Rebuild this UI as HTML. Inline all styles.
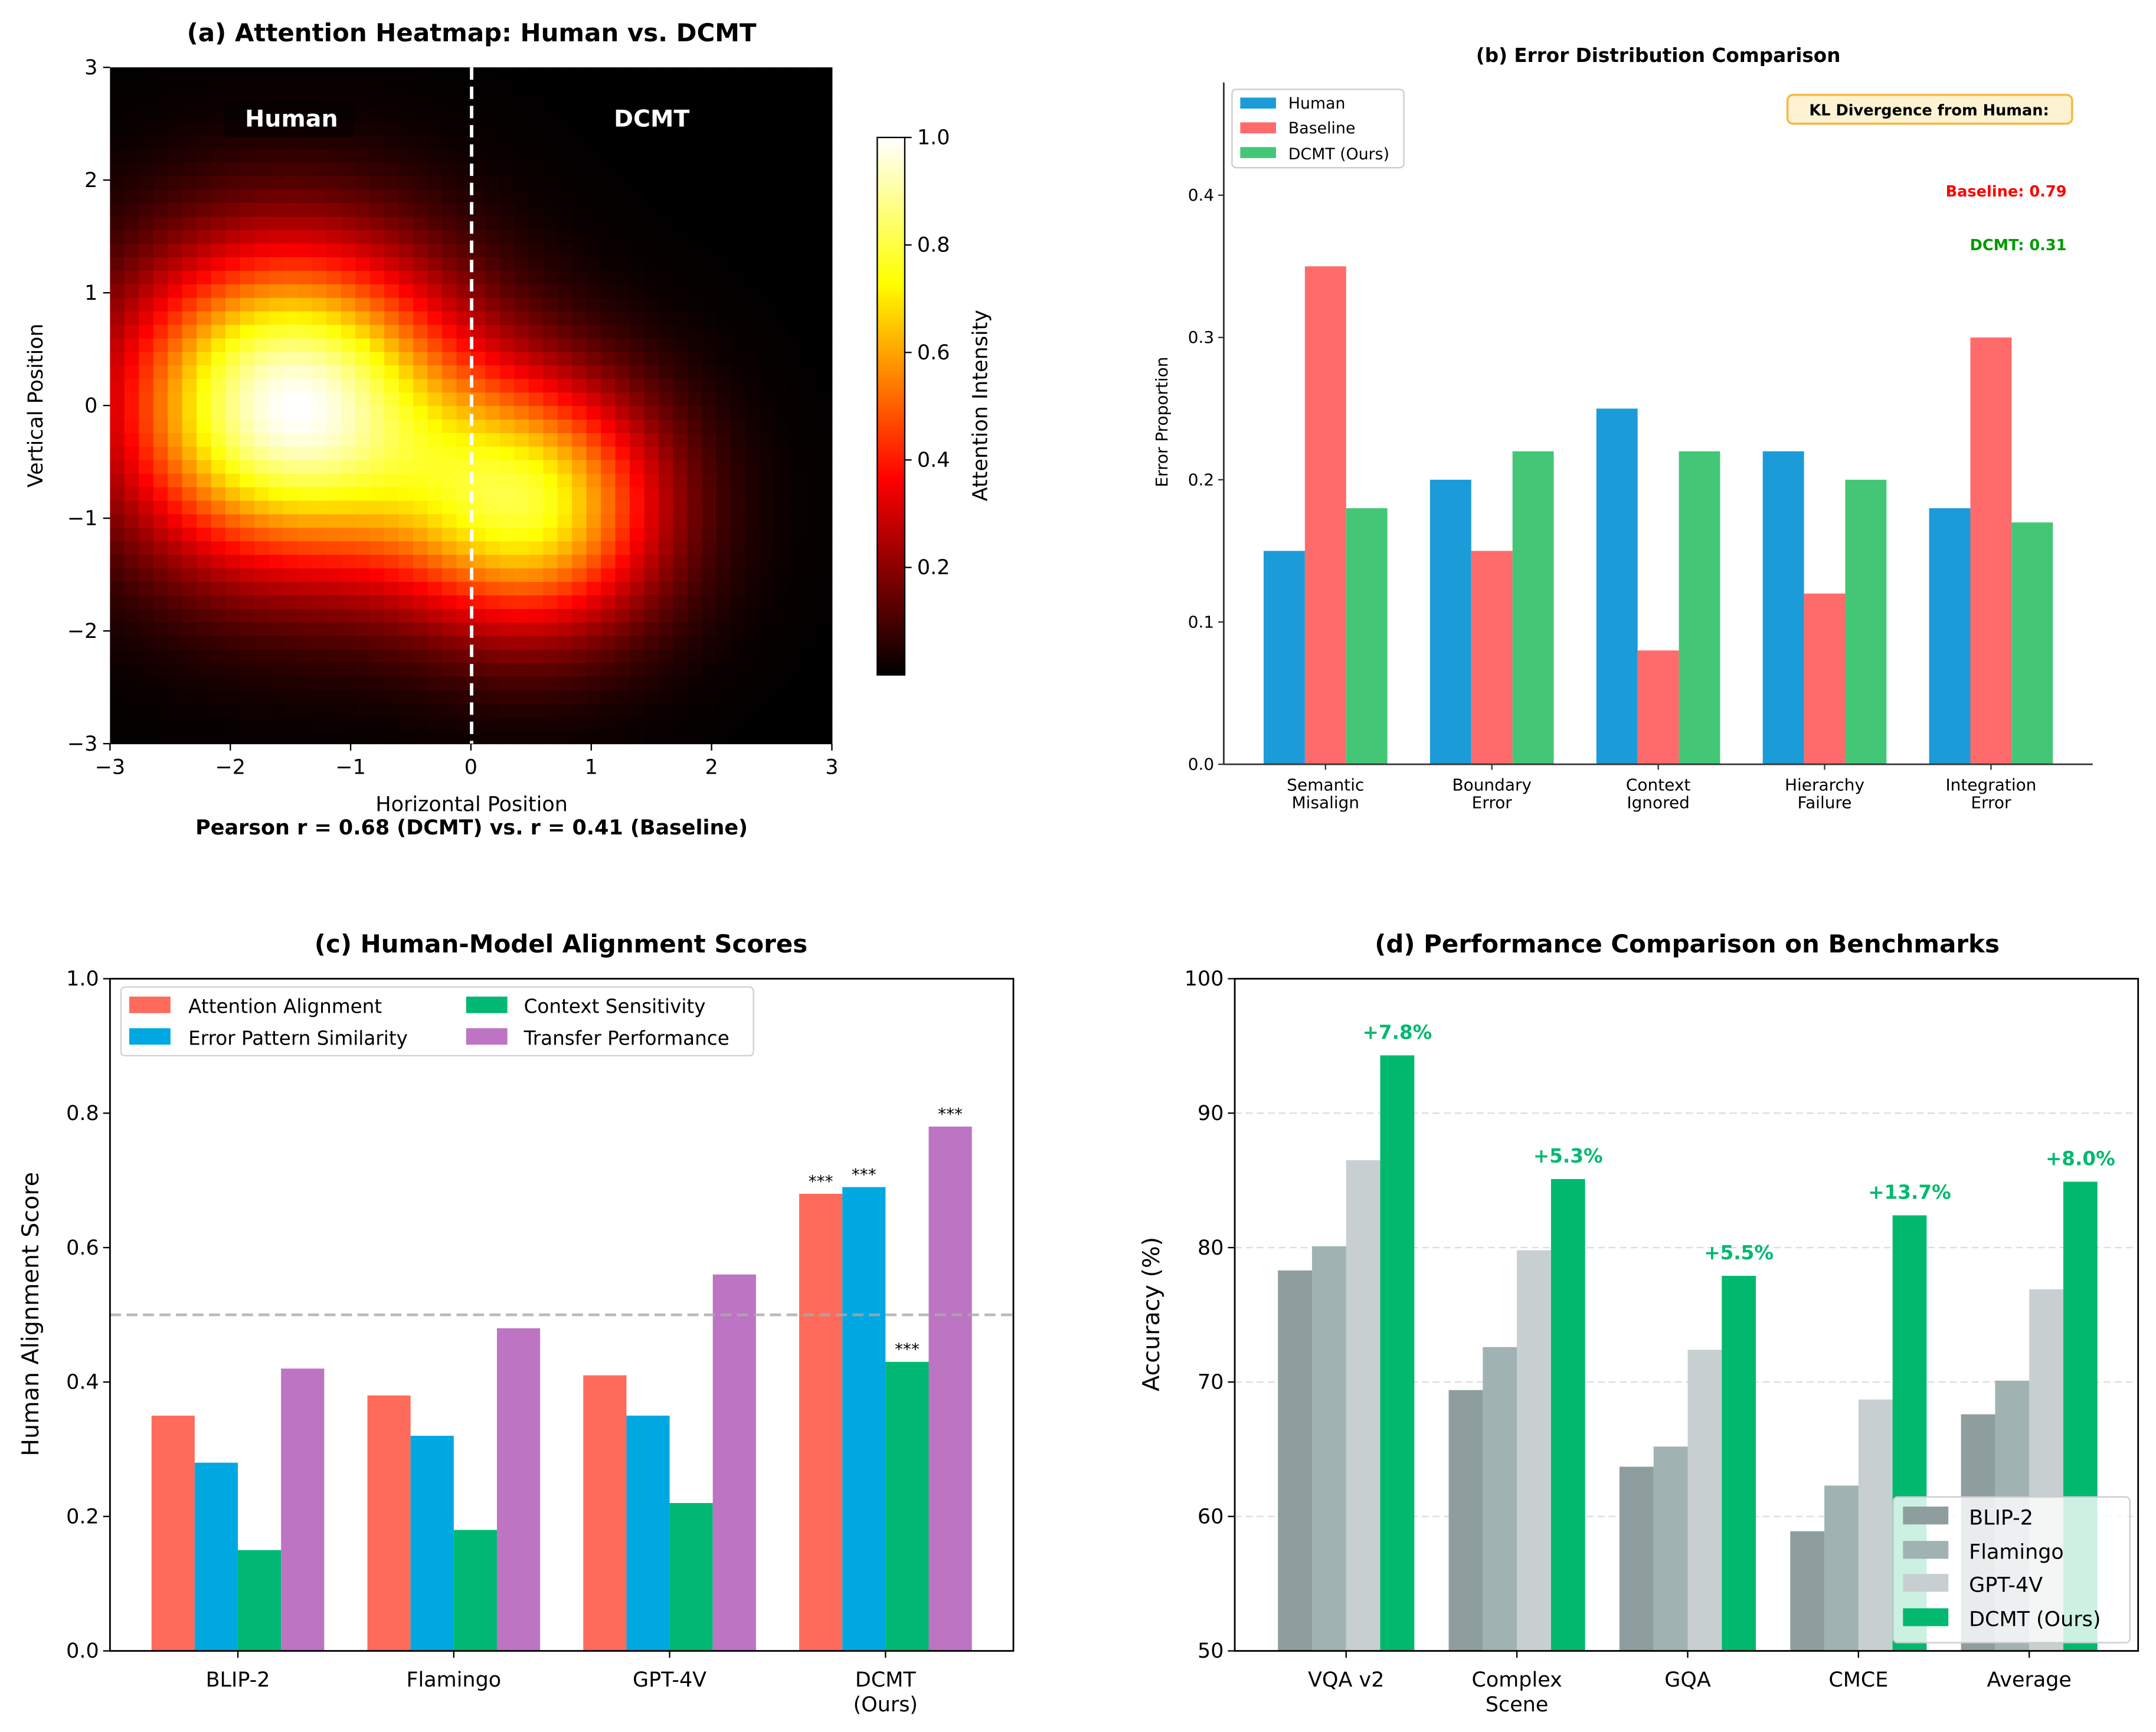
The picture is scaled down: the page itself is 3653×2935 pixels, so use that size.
<!DOCTYPE html>
<html><head><meta charset="utf-8">
<style>
html,body{margin:0;padding:0;background:#fff;}
svg{display:block;font-family:"DejaVu Sans","Liberation Sans",sans-serif;}
</style></head>
<body>
<svg id="fig" xmlns="http://www.w3.org/2000/svg" width="3653" height="2935" viewBox="0 0 1568 1260" preserveAspectRatio="none">
<rect x="0" y="0" width="1568" height="1260" fill="#fff"/>
<!-- Panel A -->
<g id="pa">
<text x="343" y="30" text-anchor="middle" font-size="18" font-weight="bold">(a) Attention Heatmap: Human vs. DCMT</text>
<g id="hm"></g>
<line x1="343" y1="49" x2="343" y2="541" stroke="#fff" stroke-width="2.5" stroke-dasharray="9,5"/>
<rect x="163" y="72" width="95" height="28" fill="#000" opacity="0.5" rx="3"/>
<text x="212" y="92" text-anchor="middle" font-size="17" font-weight="bold" fill="#fff">Human</text>
<text x="474" y="92" text-anchor="middle" font-size="17" font-weight="bold" fill="#fff">DCMT</text>
<g id="aticks"></g>
<text x="343" y="590" text-anchor="middle" font-size="15">Horizontal Position</text>
<text transform="translate(31,295) rotate(-90)" text-anchor="middle" font-size="15">Vertical Position</text>
<text x="343" y="607" text-anchor="middle" font-size="15" font-weight="bold">Pearson r = 0.68 (DCMT) vs. r = 0.41 (Baseline)</text>
<defs><linearGradient id="hotg" x1="0" y1="1" x2="0" y2="0">
<stop offset="0" stop-color="#000"/><stop offset="0.365" stop-color="#f00"/><stop offset="0.73" stop-color="#ff0"/><stop offset="1" stop-color="#fff"/></linearGradient></defs>
<rect x="638" y="100" width="20" height="391" fill="url(#hotg)" stroke="#000" stroke-width="1"/>
<g id="cbticks"></g>
<text transform="translate(718,295) rotate(-90)" text-anchor="middle" font-size="15">Attention Intensity</text>
</g>
<!-- Panel B -->
<g id="pb">
<text x="1206" y="45" text-anchor="middle" font-size="14" font-weight="bold">(b) Error Distribution Comparison</text>
<g id="bbars"></g>
<g id="baxes"></g>
<text transform="translate(849,307) rotate(-90)" text-anchor="middle" font-size="12">Error Proportion</text>
<g>
<rect x="896" y="65" width="125" height="57" fill="#fff" stroke="#ccc" rx="3"/>
<rect x="902" y="71" width="26" height="8" fill="#1b9cd8"/>
<text x="937" y="79" font-size="11.5">Human</text>
<rect x="902" y="89" width="26" height="8" fill="#ff6b6b"/>
<text x="937" y="97" font-size="11.5">Baseline</text>
<rect x="902" y="107" width="26" height="8" fill="#43c777"/>
<text x="937" y="116" font-size="11.5">DCMT (Ours)</text>
</g>
<rect x="1300" y="69" width="207" height="21" rx="4" fill="#fdf2d2" stroke="#f5b942" stroke-width="1.5"/>
<text x="1403" y="84" text-anchor="middle" font-size="11" font-weight="bold">KL Divergence from Human:</text>
<text x="1503" y="143" text-anchor="end" font-size="11" font-weight="bold" fill="#ff0000">Baseline: 0.79</text>
<text x="1503" y="182" text-anchor="end" font-size="11" font-weight="bold" fill="#009900">DCMT: 0.31</text>
</g>
<!-- Panel C -->
<g id="pc">
<text x="408" y="693" text-anchor="middle" font-size="18" font-weight="bold">(c) Human-Model Alignment Scores</text>
<g id="cbars"></g>
<g id="caxes"></g>
<text transform="translate(28,956) rotate(-90)" text-anchor="middle" font-size="17">Human Alignment Score</text>
<g>
<rect x="88" y="718" width="460" height="50" fill="#fff" stroke="#ccc" rx="3" opacity="0.9"/>
<rect x="94" y="725" width="30" height="12" fill="#ff6b5b"/><text x="137" y="737" font-size="14">Attention Alignment</text>
<rect x="94" y="748" width="30" height="12" fill="#00a8e2"/><text x="137" y="760" font-size="14">Error Pattern Similarity</text>
<rect x="339" y="725" width="30" height="12" fill="#00b873"/><text x="381" y="737" font-size="14">Context Sensitivity</text>
<rect x="339" y="748" width="30" height="12" fill="#bd74c3"/><text x="381" y="760" font-size="14">Transfer Performance</text>
</g>
</g>
<!-- Panel D -->
<g id="pd">
<text x="1227" y="693" text-anchor="middle" font-size="18" font-weight="bold">(d) Performance Comparison on Benchmarks</text>
<g id="dgrid"></g>
<g id="dbars"></g>
<g id="daxes"></g>
<text transform="translate(843,956) rotate(-90)" text-anchor="middle" font-size="17">Accuracy (%)</text>
<g>
<rect x="1377" y="1089" width="172" height="106" fill="#fff" fill-opacity="0.8" stroke="#ccc" rx="3"/>
<rect x="1384" y="1096" width="33" height="13" fill="#8e9e9e"/><text x="1432" y="1109" font-size="15">BLIP-2</text>
<rect x="1384" y="1121" width="33" height="13" fill="#a1b2b3"/><text x="1432" y="1134" font-size="15">Flamingo</text>
<rect x="1384" y="1145" width="33" height="13" fill="#c8cfd0"/><text x="1432" y="1158" font-size="15">GPT-4V</text>
<rect x="1384" y="1170" width="33" height="13" fill="#00b96f"/><text x="1432" y="1183" font-size="15">DCMT (Ours)</text>
</g>
</g>
</svg>
<script>
// ---------- Data ----------
// Panel A heatmap: two attention blobs (human left, DCMT right)
const blobCenterX = [-1.5, 0.5];
const blobCenterY = [0, -0.9];
const blobAmp = [1.0, 0.72];
const blobSigma = [0.97, 0.78];
const heatTicks = [-3, -2, -1, 0, 1, 2, 3];
const cbTicks = [0.2, 0.4, 0.6, 0.8, 1.0];

// Panel B
const errCategories = ["Semantic|Misalign", "Boundary|Error", "Context|Ignored", "Hierarchy|Failure", "Integration|Error"];
const errHuman = [0.15, 0.20, 0.25, 0.22, 0.18];
const errBaseline = [0.35, 0.15, 0.08, 0.12, 0.30];
const errDcmt = [0.18, 0.22, 0.22, 0.20, 0.17];
const errTicks = [0.0, 0.1, 0.2, 0.3, 0.4];

// Panel C
const alignModels = ["BLIP-2", "Flamingo", "GPT-4V", "DCMT|(Ours)"];
const alignAttention = [0.35, 0.38, 0.41, 0.68];
const alignError = [0.28, 0.32, 0.35, 0.69];
const alignContext = [0.15, 0.18, 0.22, 0.43];
const alignTransfer = [0.42, 0.48, 0.56, 0.78];
const alignTicks = [0.0, 0.2, 0.4, 0.6, 0.8, 1.0];
const alignThreshold = 0.5;

// Panel D
const benchNames = ["VQA v2", "Complex|Scene", "GQA", "CMCE", "Average"];
const benchBlip = [78.3, 69.4, 63.7, 58.9, 67.6];
const benchFlamingo = [80.1, 72.6, 65.2, 62.3, 70.1];
const benchGpt = [86.5, 79.8, 72.4, 68.7, 76.9];
const benchDcmt = [94.3, 85.1, 77.9, 82.4, 84.9];
const benchGain = ["+7.8%", "+5.3%", "+5.5%", "+13.7%", "+8.0%"];
const benchTicks = [50, 60, 70, 80, 90, 100];

const NS = "http://www.w3.org/2000/svg";
function mk(tag, attrs, parent) {
  const e = document.createElementNS(NS, tag);
  for (const k in attrs) e.setAttribute(k, attrs[k]);
  parent.appendChild(e);
  return e;
}
function fmtNum(v, d) { return (v < 0 ? "\u2212" : "") + Math.abs(v).toFixed(d); }
function multiText(parent, x, y, label, size, lh) {
  const t = mk("text", {x: x, y: y, "text-anchor": "middle", "font-size": size}, parent);
  label.split("|").forEach((s, i) => {
    const ts = mk("tspan", {x: x, dy: i === 0 ? 0 : lh}, t);
    ts.textContent = s;
  });
  return t;
}
function hot(v) {
  const r = Math.min(1, Math.max(0, v / 0.365));
  const g = Math.min(1, Math.max(0, (v - 0.365) / 0.365));
  const b = Math.min(1, Math.max(0, (v - 0.73) / 0.27));
  return "rgb(" + Math.round(r * 255) + "," + Math.round(g * 255) + "," + Math.round(b * 255) + ")";
}

// ---------- Panel A ----------
(function () {
  const x0 = 80, x1 = 605, yTop = 49, yBot = 541;
  const ax = v => x0 + (v + 3) / 6 * (x1 - x0);
  const ay = v => yBot - (v + 3) / 6 * (yBot - yTop);
  const N = 50;
  const hm = document.getElementById("hm");
  const vals = [];
  let mx = 0;
  for (let j = 0; j < N; j++) for (let i = 0; i < N; i++) {
    const x = -3 + (i + 0.5) * 6 / N, y = -3 + (j + 0.5) * 6 / N;
    let v = 0;
    for (let k = 0; k < blobAmp.length; k++) {
      const dx = x - blobCenterX[k], dy = y - blobCenterY[k];
      v += blobAmp[k] * Math.exp(-(dx * dx + dy * dy) / (2 * blobSigma[k] * blobSigma[k]));
    }
    vals.push([i, j, v]);
    if (v > mx) mx = v;
  }
  vals.forEach(([i, j, v]) => {
    const xa = -3 + i * 6 / N, ya = -3 + (j + 1) * 6 / N;
    const r = mk("rect", {x: ax(xa), y: ay(ya), width: (x1 - x0) / N + 0.4, height: (yBot - yTop) / N + 0.4, fill: hot(v / mx)}, hm);
    
    
  });
  const tg = document.getElementById("aticks");
  heatTicks.forEach(t => {
    mk("line", {x1: ax(t), y1: yBot, x2: ax(t), y2: yBot + 5, stroke: "#000", "stroke-width": 1}, tg);
    const tx = mk("text", {x: ax(t), y: yBot + 22, "text-anchor": "middle", "font-size": 15}, tg);
    tx.textContent = fmtNum(t, 0);
    
    
    mk("line", {x1: x0 - 5, y1: ay(t), x2: x0, y2: ay(t), stroke: "#000", "stroke-width": 1}, tg);
    const ty = mk("text", {x: x0 - 9, y: ay(t) + 5, "text-anchor": "end", "font-size": 15}, tg);
    ty.textContent = fmtNum(t, 0);
    
    
  });
  const cg = document.getElementById("cbticks");
  const cy = v => 491 - v * 391;
  cbTicks.forEach(t => {
    mk("line", {x1: 658, y1: cy(t), x2: 663, y2: cy(t), stroke: "#000", "stroke-width": 1}, cg);
    const tt = mk("text", {x: 667, y: cy(t) + 5, "font-size": 15}, cg);
    tt.textContent = t.toFixed(1);
    
    
  });
})();

// ---------- Panel B ----------
(function () {
  const x0 = 890, x1 = 1522, y0 = 556, yTopAx = 60;
  const by = v => y0 - v * 1035;
  const c0 = 964, step = 121, bw = 30;
  const bx = i => c0 + i * step;
  const g = document.getElementById("bbars");
  const series = [[errHuman, "#1b9cd8", "bar-human"], [errBaseline, "#ff6b6b", "bar-baseline"], [errDcmt, "#43c777", "bar-dcmt"]];
  series.forEach((s, si) => {
    s[0].forEach((v, i) => {
      const r = mk("rect", {x: bx(i) + (si - 1) * bw - bw / 2, y: by(v), width: bw, height: y0 - by(v), fill: s[1]}, g);
      
      
    });
  });
  const a = document.getElementById("baxes");
  mk("line", {x1: x0, y1: yTopAx, x2: x0, y2: y0, stroke: "#333", "stroke-width": 1.2}, a);
  mk("line", {x1: x0, y1: y0, x2: x1, y2: y0, stroke: "#333", "stroke-width": 1.2}, a);
  errTicks.forEach(t => {
    mk("line", {x1: x0 - 4, y1: by(t), x2: x0, y2: by(t), stroke: "#333"}, a);
    const tt = mk("text", {x: x0 - 7, y: by(t) + 4, "text-anchor": "end", "font-size": 12}, a);
    tt.textContent = t.toFixed(1);
    
    
  });
  errCategories.forEach((c, i) => {
    mk("line", {x1: bx(i), y1: y0, x2: bx(i), y2: y0 + 4, stroke: "#333"}, a);
    const t = multiText(a, bx(i), y0 + 19, c, 12, 13);
    
    
  });
})();

// ---------- Panel C ----------
(function () {
  const x0 = 80, x1 = 737, yT = 712, y0 = 1201;
  const cy = v => y0 - v * (y0 - yT);
  const c0 = 173, step = 157, bw = 31.4;
  const cx = i => c0 + i * step;
  const g = document.getElementById("cbars");
  const series = [[alignAttention, "#ff6b5b", "bar-attention"], [alignError, "#00a8e2", "bar-error-pattern"], [alignContext, "#00b873", "bar-context"], [alignTransfer, "#bd74c3", "bar-transfer"]];
  series.forEach((s, si) => {
    s[0].forEach((v, i) => {
      const left = cx(i) + (si - 1.5) * bw - bw / 2;
      const r = mk("rect", {x: left, y: cy(v), width: bw, height: y0 - cy(v), fill: s[1]}, g);
      
      
      if (i === s[0].length - 1) {
        const st = mk("text", {x: left + bw / 2, y: cy(v) - 5, "text-anchor": "middle", "font-size": 12}, g);
        st.textContent = "***";
        
        
      }
    });
  });
  const thr = mk("line", {x1: x0, y1: cy(alignThreshold), x2: x1, y2: cy(alignThreshold), stroke: "#aaa", "stroke-width": 2, "stroke-dasharray": "8,4", opacity: 0.8}, g);
  
  
  const a = document.getElementById("caxes");
  mk("rect", {x: x0, y: yT, width: x1 - x0, height: y0 - yT, fill: "none", stroke: "#000", "stroke-width": 1.2}, a);
  alignTicks.forEach(t => {
    mk("line", {x1: x0 - 5, y1: cy(t), x2: x0, y2: cy(t), stroke: "#000"}, a);
    const tt = mk("text", {x: x0 - 8, y: cy(t) + 5, "text-anchor": "end", "font-size": 15}, a);
    tt.textContent = t.toFixed(1);
    
    
  });
  alignModels.forEach((m, i) => {
    mk("line", {x1: cx(i), y1: y0, x2: cx(i), y2: y0 + 5, stroke: "#000"}, a);
    const t = multiText(a, cx(i), y0 + 26, m, 15, 18);
    
    
  });
})();

// ---------- Panel D ----------
(function () {
  const x0 = 898, x1 = 1555, yT = 712, y0 = 1201;
  const dy = v => y0 - (v - 50) / 50 * (y0 - yT);
  const c0 = 979, step = 124.2, bw = 24.8;
  const dx = i => c0 + i * step;
  const grid = document.getElementById("dgrid");
  benchTicks.forEach(t => {
    if (t > 50 && t < 100) {
      const gl = mk("line", {x1: x0, y1: dy(t), x2: x1, y2: dy(t), stroke: "#ddd", "stroke-width": 1, "stroke-dasharray": "5,3"}, grid);
      
      
    }
  });
  const g = document.getElementById("dbars");
  const series = [[benchBlip, "#8e9e9e", "bar-blip2"], [benchFlamingo, "#a1b2b3", "bar-flamingo"], [benchGpt, "#c8cfd0", "bar-gpt4v"], [benchDcmt, "#00b96f", "bar-dcmt-ours"]];
  series.forEach((s, si) => {
    s[0].forEach((v, i) => {
      const left = dx(i) + (si - 1.5) * bw - bw / 2;
      const r = mk("rect", {x: left, y: dy(v), width: bw, height: y0 - dy(v), fill: s[1]}, g);
      
      
      if (si === 3) {
        const lt = mk("text", {x: left + bw / 2, y: dy(v) - 12, "text-anchor": "middle", "font-size": 14, "font-weight": "bold", fill: "#00b96f"}, g);
        lt.textContent = benchGain[i];
        
        
      }
    });
  });
  const a = document.getElementById("daxes");
  mk("rect", {x: x0, y: yT, width: x1 - x0, height: y0 - yT, fill: "none", stroke: "#000", "stroke-width": 1.2}, a);
  benchTicks.forEach(t => {
    mk("line", {x1: x0 - 5, y1: dy(t), x2: x0, y2: dy(t), stroke: "#000"}, a);
    const tt = mk("text", {x: x0 - 8, y: dy(t) + 5, "text-anchor": "end", "font-size": 15}, a);
    tt.textContent = String(t);
    
    
  });
  benchNames.forEach((m, i) => {
    mk("line", {x1: dx(i), y1: y0, x2: dx(i), y2: y0 + 5, stroke: "#000"}, a);
    const t = multiText(a, dx(i), y0 + 26, m, 15, 18);
    
    
  });
})();
</script>
</body></html>
